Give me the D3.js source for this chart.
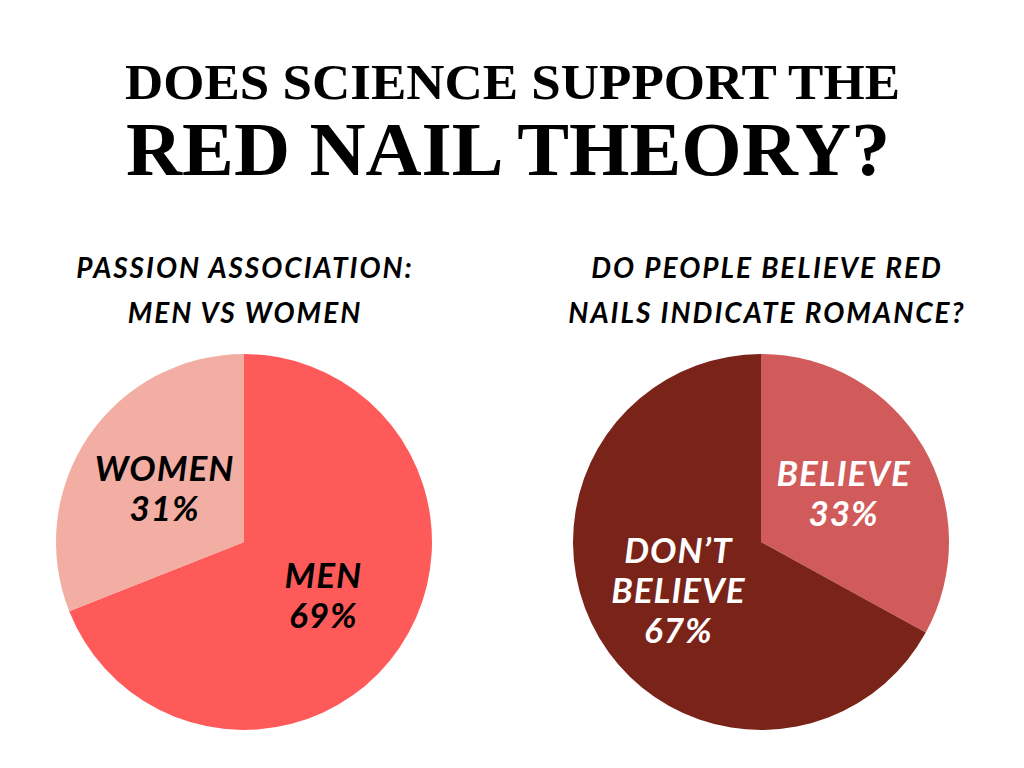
<!DOCTYPE html>
<html>
<head>
<meta charset="utf-8">
<script src="https://cdn.jsdelivr.net/npm/d3@7"></script>
<style>
  html, body { margin: 0; padding: 0; background: #fff; }
  svg { display: block; }
</style>
</head>
<body>
<svg id="chart"></svg>
<script>
// Chart data
const titleLines = ["DOES SCIENCE SUPPORT THE", "RED NAIL THEORY?"];

const leftTitle = ["PASSION ASSOCIATION:", "MEN VS WOMEN"];
const leftCategories = ["MEN", "WOMEN"];
const leftLabelLines = [["MEN"], ["WOMEN"]];
const leftValues = [69, 31];
const leftColors = ["#fe5a59", "#f2aea3"];
const leftLabelColor = "#000";

const rightTitle = ["DO PEOPLE BELIEVE RED", "NAILS INDICATE ROMANCE?"];
const rightCategories = ["BELIEVE", "DON\u2019T BELIEVE"];
const rightLabelLines = [["BELIEVE"], ["DON\u2019T", "BELIEVE"]];
const rightValues = [33, 67];
const rightColors = ["#d05b5a", "#7a2419"];
const rightLabelColor = "#fff";

const width = 1024;
const height = 768;
const radius = 188;
const labelRadius = 96;

const svg = d3.select("#chart")
  .attr("width", width)
  .attr("height", height)
  .attr("viewBox", [0, 0, width, height]);

svg.append("rect").attr("width", width).attr("height", height).attr("fill", "#fff");

// Title (serif, squeezed to the width of the original)
const titleFont = "'Liberation Serif', 'DejaVu Serif', serif";
svg.append("text")
  .attr("x", 125).attr("y", 99)
  .attr("textLength", 775)
  .attr("lengthAdjust", "spacingAndGlyphs")
  .attr("font-family", titleFont)
  .attr("font-weight", "bold")
  .attr("font-size", 50)
  .attr("fill", "#000")
  .text(titleLines[0]);

svg.append("text")
  .attr("x", 126).attr("y", 175)
  .attr("textLength", 764)
  .attr("lengthAdjust", "spacingAndGlyphs")
  .attr("font-family", titleFont)
  .attr("font-weight", "bold")
  .attr("font-size", 77)
  .attr("fill", "#000")
  .text(titleLines[1]);

const sansFont = "Lato, 'Open Sans', sans-serif";

function drawPie(cx, titleX, titleLinesArr, categories, values, colors, labelLines, labelColor) {
  const g = svg.append("g");

  // Sub title, two lines
  g.append("text")
    .attr("text-anchor", "middle")
    .attr("font-family", sansFont)
    .attr("font-weight", 700)
    .attr("font-style", "italic")
    .attr("font-size", 28)
    .attr("letter-spacing", 2)
    .attr("fill", "#000")
    .selectAll("tspan")
    .data(titleLinesArr)
    .join("tspan")
      .attr("x", titleX)
      .attr("y", (d, i) => 278 + i * 45)
      .text(d => d);

  const data = categories.map((c, i) => ({ name: c, value: values[i], color: colors[i], lines: labelLines[i] }));

  const pie = d3.pie()
    .sort(null)
    .value(d => d.value);

  const arc = d3.arc().innerRadius(0).outerRadius(radius);
  const labelArc = d3.arc().innerRadius(labelRadius).outerRadius(labelRadius);

  const pieG = g.append("g").attr("transform", `translate(${cx},542)`);

  const arcs = pie(data);

  pieG.selectAll("path")
    .data(arcs)
    .join("path")
    .attr("d", arc)
    .attr("fill", d => d.data.color);

  const lineH = 40;
  const capH = 25;
  pieG.selectAll("text.label")
    .data(arcs)
    .join("text")
    .attr("class", "label")
    .attr("transform", d => `translate(${labelArc.centroid(d)})`)
    .attr("text-anchor", "middle")
    .attr("font-family", sansFont)
    .attr("font-weight", 700)
    .attr("font-style", "italic")
    .attr("font-size", 35)
    .attr("letter-spacing", 1)
    .attr("fill", labelColor)
    .each(function(d) {
      const lines = d.data.lines.concat([d.data.value + "%"]);
      const t = d3.select(this);
      const y0 = -((lines.length - 1) * lineH - capH) / 2;
      lines.forEach((l, i) => {
        t.append("tspan")
          .attr("x", 0)
          .attr("y", y0 + i * lineH)
          .text(l);
      });
    });
}

drawPie(244, 245, leftTitle, leftCategories, leftValues, leftColors, leftLabelLines, leftLabelColor);
drawPie(761, 767, rightTitle, rightCategories, rightValues, rightColors, rightLabelLines, rightLabelColor);
</script>
</body>
</html>
